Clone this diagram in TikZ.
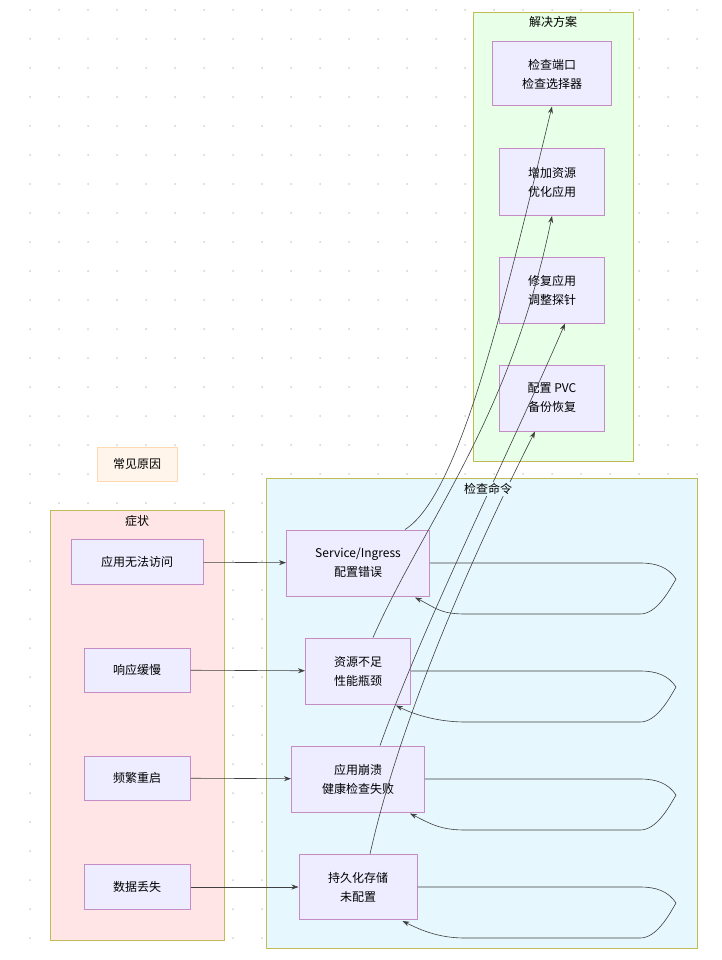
\documentclass[tikz,border=0pt]{standalone}
\usepackage{fontspec}
\setmainfont{Noto Sans CJK SC}
\usetikzlibrary{positioning,calc,arrows.meta}
\begin{document}
\begin{tikzpicture}[x=1pt,y=-1pt,
    box/.style={draw=violet!45,fill=blue!7,line width=1pt,inner sep=0pt,align=center,font=\fontsize{12}{19}\selectfont},
    grp/.style={draw=olive!55,line width=0.8pt},
    flow/.style={draw=black!75,line width=0.6pt,-{Stealth[length=7pt,width=5pt]}}]
    \useasboundingbox (0,0) rectangle (722,960);
    % background dots
    \foreach \i in {0,...,24} \foreach \j in {0,...,32}
        \fill[black!18] (30+29*\i,10+29*\j) circle (1);
    % groups
    \draw[grp,fill=red!10] (50,510) rectangle (224,940);
    \node at (137,521) {\fontsize{12}{14}\selectfont 症状};
    \draw[grp,fill=cyan!10] (266,478) rectangle (697,948);
    \draw[grp,fill=green!9] (473,12) rectangle (633,461);
    \node at (553,22) {\fontsize{12}{14}\selectfont 解决方案};
    \node[box,draw=orange!30,fill=orange!8,minimum width=80,minimum height=34] (reason) at (137,464) {常见原因};
    % symptoms
    \node[box,minimum width=132,minimum height=45] (s1) at (137,562) {应用无法访问};
    \node[box,minimum width=106,minimum height=44] (s2) at (137,670) {响应缓慢};
    \node[box,minimum width=106,minimum height=44] (s3) at (137,778) {频繁重启};
    \node[box,minimum width=106,minimum height=45] (s4) at (137,887) {数据丢失};
    % causes
    \node[box,minimum width=143,minimum height=66] (c1) at (358,563) {Service/Ingress\\配置错误};
    \node[box,minimum width=105,minimum height=66] (c2) at (358,671) {资源不足\\性能瓶颈};
    \node[box,minimum width=133,minimum height=66] (c3) at (358,779) {应用崩溃\\健康检查失败};
    \node[box,minimum width=118,minimum height=65] (c4) at (358,887) {持久化存储\\未配置};
    % solutions
    \node[box,minimum width=119,minimum height=64] (f1) at (552,74) {检查端口\\检查选择器};
    \node[box,minimum width=105,minimum height=67] (f2) at (552,182) {增加资源\\优化应用};
    \node[box,minimum width=105,minimum height=66] (f3) at (552,290) {修复应用\\调整探针};
    \node[box,minimum width=105,minimum height=66] (f4) at (552,398) {配置 PVC\\备份恢复};
    \coordinate (loopx) at (640,0);
    \foreach \n in {1,...,4} {
        \draw[flow] (s\n) -- (c\n);
        \draw[flow] (c\n.east) -- (c\n.east -| loopx)
            .. controls +(16,0) and +(-8,-12) .. ++(36,16)
            .. controls +(-8,14) and +(16,0) .. ++(-36,35)
            -- ++(-175,0)
            .. controls +(-25,0) and +(20,10) .. ($(c\n.south east)+(-15,1)$);
    }
    \draw[flow] ($(c1.north east)+(-25,0)$) .. controls (460,495) and (505,300) .. (f1.south);
    \draw[flow] ($(c2.north)+(15,0)$) .. controls (425,520) and (510,420) .. (f2.south);
    \draw[flow] ($(c3.north)+(22,0)$) .. controls (425,620) and (515,440) .. ($(f3.south)+(13,0)$);
    \draw[flow] ($(c4.north)+(12,0)$) .. controls (400,720) and (470,560) .. ($(f4.south)+(-17,0)$);
    \node[fill=cyan!10,inner sep=1pt] at (488,489) {\fontsize{12}{14}\selectfont 检查命令};
\end{tikzpicture}
\end{document}
